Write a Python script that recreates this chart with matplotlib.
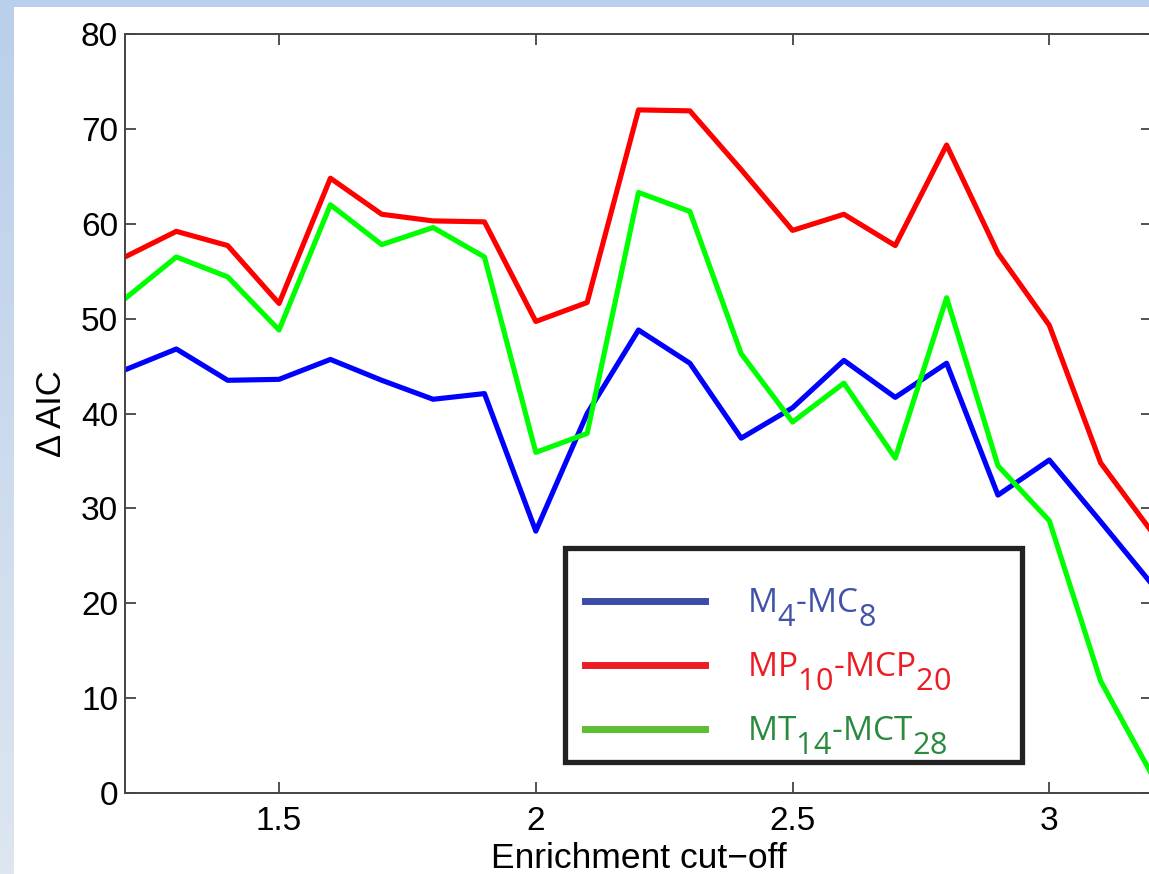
import numpy as np
import matplotlib
matplotlib.use("Agg")
from matplotlib import pyplot as plt
from matplotlib.lines import Line2D
from matplotlib.patches import Rectangle
from matplotlib.colors import LinearSegmentedColormap
import matplotlib._mathtext as mt

# enrichment cut-off values
cutoff = [1.2, 1.3, 1.4, 1.5, 1.6, 1.7, 1.8, 1.9, 2.0, 2.1, 2.2,
          2.3, 2.4, 2.5, 2.6, 2.7, 2.8, 2.9, 3.0, 3.1, 3.2]

# delta AIC per model pair
aic_m4 = [44.6, 46.8, 43.5, 43.6, 45.7, 43.5, 41.5, 42.1, 27.6, 40.0, 48.8,
          45.3, 37.4, 40.6, 45.6, 41.7, 45.3, 31.4, 35.1, 28.6, 22.0]
aic_mp10 = [56.5, 59.2, 57.7, 51.6, 64.8, 61.0, 60.3, 60.2, 49.7, 51.7, 72.0,
            71.9, 65.7, 59.3, 61.0, 57.7, 68.3, 56.9, 49.3, 34.8, 27.5]
aic_mt14 = [52.1, 56.5, 54.4, 48.8, 62.0, 57.8, 59.6, 56.5, 35.9, 37.9, 63.3,
            61.3, 46.3, 39.1, 43.2, 35.3, 52.2, 34.5, 28.7, 11.8, 1.9]

legend_labels = [r'M$_{4}$-MC$_{8}$', r'MP$_{10}$-MCP$_{20}$', r'MT$_{14}$-MCT$_{28}$']

# subscripts in the legend are almost full size and sit low in the original
mt.SHRINK_FACTOR = 0.92
mt.FontConstantsBase.sub1 = 0.78

plt.rcParams['font.family'] = ['Liberation Sans', 'DejaVu Sans']
plt.rcParams['mathtext.fontset'] = 'custom'
plt.rcParams['mathtext.rm'] = 'Open Sans'
plt.rcParams['mathtext.it'] = 'Open Sans:italic'

fig = plt.figure(figsize=(11.49, 8.74), dpi=100, facecolor='white')

# slide background strips (top and left)
top = fig.add_axes([0, 1 - 7/874, 1, 7/874])
top.set_facecolor('#b9d0ec')
top.set_xticks([]); top.set_yticks([])
for s in top.spines.values():
    s.set_visible(False)
left = fig.add_axes([0, 0, 14/1149, 1])
grad = np.linspace(0, 1, 256).reshape(-1, 1)
cm = LinearSegmentedColormap.from_list('bg', ['#b9cfea', '#dde6f1'])
left.imshow(grad, aspect='auto', cmap=cm)
left.axis('off')

ax = fig.add_axes([125/1149, 81/874, 1027/1149, 759/874])
ax.plot(cutoff, aic_m4, color='#0000ff', lw=3.7)
ax.plot(cutoff, aic_mp10, color='#ff0000', lw=3.7)
ax.plot(cutoff, aic_mt14, color='#00ff00', lw=3.7)

ax.set_xlim(1.2, 3.2)
ax.set_ylim(0, 80)
ax.set_xticks([1.5, 2, 2.5, 3])
ax.set_xticklabels(['1.5', '2', '2.5', '3'])
ax.set_yticks(range(0, 81, 10))
ax.tick_params(direction='in', length=8, width=1.2, color='#333333',
               top=True, right=True, labelsize=24)
ax.tick_params(axis='x', pad=9.5)
ax.tick_params(axis='y', pad=5)
for s in ax.spines.values():
    s.set_linewidth(1.4)
    s.set_color('#444444')
ax.set_xlabel('Enrichment cut\u2212off', fontsize=25.5, labelpad=3.5)
ax.set_ylabel('\u0394 AIC', fontsize=25, labelpad=9)

# legend box (the pasted legend sits low inside its frame)
ax.add_patch(Rectangle((0.428, 0.041), 0.445, 0.282, transform=ax.transAxes,
                       facecolor='white', edgecolor='#222222', lw=3.8,
                       zorder=4.5))
handles = [Line2D([], [], color='#3c4ba6', lw=5),
           Line2D([], [], color='#ed1c24', lw=5),
           Line2D([], [], color='#5dbf31', lw=5)]
leg = ax.legend(handles, legend_labels, loc='upper left',
                bbox_to_anchor=(0.448, 0.2715),
                prop={'family': 'Open Sans', 'size': 24},
                handlelength=3.6, handletextpad=1.25,
                labelspacing=0.66, borderpad=0, frameon=False,
                borderaxespad=0)
for t, c in zip(leg.get_texts(), ['#4152a8', '#ed1c24', '#2a8a3e']):
    t.set_color(c)

fig.savefig('out.png', dpi=100)
